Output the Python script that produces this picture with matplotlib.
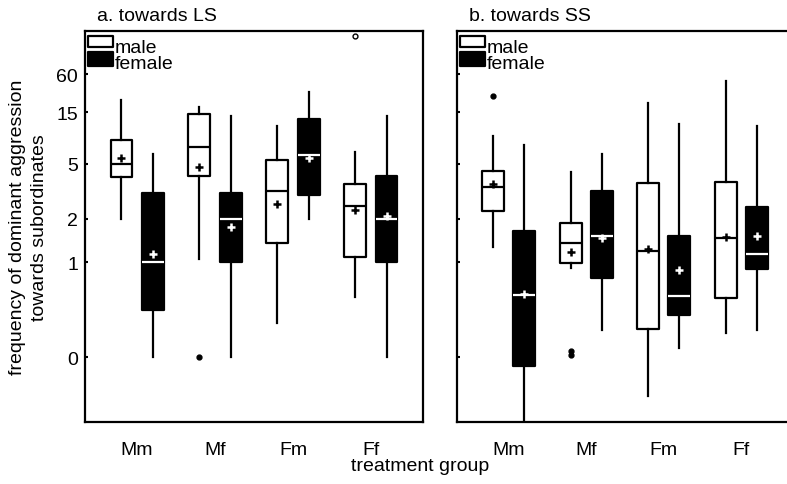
import numpy as np
import matplotlib as mpl
mpl.use('Agg')
import matplotlib.pyplot as plt
from matplotlib.patches import Rectangle

mpl.rcParams.update({
    'font.family': ['Liberation Sans', 'DejaVu Sans'],
    'font.size': 14,
})

# values on the transformed axis (0 label = 0, 1 label = 1)
groups = ['Mm', 'Mf', 'Fm', 'Ff']
tick_pos = [0, 1.0, 1.453, 2.032, 2.579, 2.979]
tick_lab = ['0', '1', '2', '5', '15', '60']

# a. towards LS : whislo, q1, med, q3, whishi, mean
ls_male = [
    [1.453, 1.895, 2.032, 2.284, 2.705, 2.095],
    [1.032, 1.905, 2.211, 2.558, 2.632, 2.000],
    [0.358, 1.200, 1.747, 2.074, 2.432, 1.611],
    [0.632, 1.053, 1.589, 1.821, 2.158, 1.547],
]
ls_male_out = [[], [0.0], [], [3.379]]
ls_female = [
    [0.000, 0.495, 1.000, 1.726, 2.137, 1.084],
    [0.000, 1.000, 1.453, 1.726, 2.537, 1.368],
    [1.453, 1.705, 2.126, 2.505, 2.789, 2.095],
    [0.000, 1.000, 1.453, 1.905, 2.537, 1.484],
]
ls_female_out = [[], [], [], []]

# b. towards SS
ss_male = [
    [1.158, 1.537, 1.789, 1.958, 2.326, 1.821],
    [0.937, 0.989, 1.200, 1.411, 1.947, 1.105],
    [-0.411, 0.295, 1.116, 1.832, 2.674, 1.137],
    [0.253, 0.621, 1.253, 1.842, 2.905, 1.263],
]
ss_male_out = [[2.747], [0.063, 0.021], [], []]
ss_female = [
    [-0.758, -0.095, 0.653, 1.326, 2.232, 0.663],
    [0.284, 0.832, 1.274, 1.747, 2.137, 1.253],
    [0.095, 0.442, 0.642, 1.274, 2.453, 0.916],
    [0.284, 0.926, 1.084, 1.579, 2.432, 1.274],
]
ss_female_out = [[], [], [], []]

W, H = 787, 485


def stats(rows, outs):
    res = []
    for r, o in zip(rows, outs):
        res.append(dict(whislo=r[0], q1=r[1], med=r[2], q3=r[3],
                        whishi=r[4], mean=r[5], fliers=o))
    return res


def legend(ax, wpx, hpx):
    # small MATLAB-style legend, sizes in pixels from the panel's top-left
    fx = lambda p: p / wpx
    fy = lambda p: 1 - p / hpx
    ax.add_patch(Rectangle((fx(3), fy(16)), fx(25), 11 / hpx, transform=ax.transAxes,
                           facecolor='white', edgecolor='black', lw=1.6,
                           joinstyle='round', clip_on=False))
    ax.add_patch(Rectangle((fx(3), fy(35)), fx(25), 14 / hpx, transform=ax.transAxes,
                           facecolor='black', edgecolor='black', lw=1.6,
                           joinstyle='round', clip_on=False))
    ax.text(fx(30), fy(21), 'male', transform=ax.transAxes, va='baseline', fontsize=14)
    ax.text(fx(30), fy(37), 'female', transform=ax.transAxes, va='baseline', fontsize=14)


def draw(ax, male, male_out, female, female_out):
    x = np.arange(1, len(groups) + 1)
    lw = 1.6
    out = []
    for st, pos, fc, lc in [(stats(male, male_out), x - 0.2, 'white', 'black'),
                            (stats(female, female_out), x + 0.2, 'black', 'white')]:
        r = ax.bxp(st, positions=pos, widths=0.28, patch_artist=True,
                   showmeans=True, showcaps=False,
                   boxprops=dict(facecolor=fc, edgecolor='black', linewidth=lw,
                                 joinstyle='round'),
                   medianprops=dict(color=lc, linewidth=lw),
                   whiskerprops=dict(color='black', linewidth=lw),
                   meanprops=dict(marker='+', markeredgecolor=lc,
                                  markersize=6, markeredgewidth=1.8),
                   flierprops=dict(marker='o', markerfacecolor='black',
                                   markeredgecolor='black', markersize=3.5))
        out.append(r)
    ax.set_xlim(0.333, 4.667)
    ax.set_ylim(-0.684, 3.432)
    ax.set_xticks(x)
    ax.set_xticklabels(groups)
    ax.set_yticks(tick_pos)
    ax.tick_params(axis='x', length=0, pad=14)
    ax.tick_params(axis='y', direction='in', length=2.5, width=1.5, pad=5)
    for s in ax.spines.values():
        s.set_linewidth(1.6)
    return out


fig = plt.figure(figsize=(7.87, 4.85), dpi=100)
ax1 = fig.add_axes([85 / W, (H - 423) / H, 338 / W, 391 / H])
ax2 = fig.add_axes([457 / W, (H - 423) / H, 336 / W, 391 / H])

r1 = draw(ax1, ls_male, ls_male_out, ls_female, ls_female_out)
draw(ax2, ss_male, ss_male_out, ss_female, ss_female_out)
legend(ax1, 338, 391)
legend(ax2, 336, 391)

# the top outlier in panel a is an open ring
r1[0]['fliers'][3].set_markerfacecolor('white')

ax1.set_yticklabels(tick_lab)
ax2.set_yticklabels([])

ax1.set_title('a. towards LS', loc='left', x=0.035, pad=8, fontsize=14)
ax2.set_title('b. towards SS', loc='left', x=0.035, pad=8, fontsize=14)
ax1.set_ylabel('frequency of dominant aggression\ntowards subordinates',
               fontsize=14, linespacing=1.35, labelpad=6)
fig.text(420 / W, 1 - 467 / H, 'treatment group', ha='center', va='center',
         fontsize=14)

fig.savefig('out.png', dpi=100)
